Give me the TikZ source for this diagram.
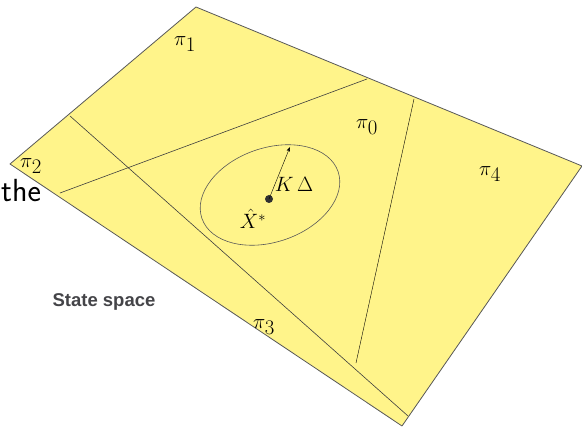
\documentclass[tikz,border=0pt]{standalone}
\usepackage{amsmath,amssymb}
\usepackage{fontspec}
\usepackage{tikz}
\usetikzlibrary{arrows.meta,positioning}
\definecolor{spaceyellow}{RGB}{255,244,138}
\definecolor{spaceedge}{RGB}{88,88,88}
\definecolor{spacelabel}{RGB}{68,68,72}
\newfontfamily\headsans{Liberation Sans}

\begin{document}
\begin{tikzpicture}[x=1pt,y=-1pt,>=Stealth,line cap=round,line join=round,
 mlabel/.style={font=\fontsize{20}{24}\selectfont,inner sep=0pt}]
\useasboundingbox (0,0) rectangle (582,427);
% ekran: y w dol, 1pt = 1px
\coordinate (top) at (196,7);
\coordinate (lft) at (10,164);
\coordinate (bot) at (402,426);
\coordinate (rgt) at (582,166);
\filldraw[fill=spaceyellow,draw=spaceedge,thick] (top)--(rgt)--(bot)--(lft)--cycle;
% granice obszarow
\coordinate (a1) at (70,116);  \coordinate (a2) at (408,416);
\coordinate (b1) at (60,193);  \coordinate (b2) at (367,79);
\coordinate (c1) at (414,99);  \coordinate (c2) at (356,363);
\draw[spaceedge!70!black,semithick] (a1)--(a2);
\draw[spaceedge!70!black,semithick] (b1)--(b2);
\draw[black,thin] (c1)--(c2);
% kula wokol X*
\draw[spaceedge,semithick,rotate around={19:(270,195)}]
 (270,195) ellipse [x radius=72,y radius=47];
\node[circle,fill=spaceedge!55!black,inner sep=0pt,minimum size=8pt] (xstar) at (269,199) {};
\coordinate (rim) at (290,147);
\draw[->,thin] (xstar.center)--(rim);
\node[mlabel] (kd) at (294,184) {$K\,\Delta$};
\node[mlabel] (xs) at (253,219) {$\hat{X}^*$};
\node[mlabel] (p0) at (367,127) {$\pi_{\textstyle 0}$};
\node[mlabel] (p1) at (185,44) {$\pi_{\textstyle 1}$};
\node[mlabel] (p2) at (31,166) {$\pi_{\textstyle 2}$};
\node[mlabel] (p3) at (264,327) {$\pi_{\textstyle 3}$};
\node[mlabel] (p4) at (490,174) {$\pi_{\textstyle 4}$};
\node[font=\sffamily\fontsize{32}{36}\selectfont,inner sep=0pt,anchor=base west] (the) at (1,202) {the};
\node[font=\headsans\bfseries\fontsize{18.5}{22}\selectfont,text=spacelabel,inner sep=0pt,anchor=base] (ss) at (104,307) {State space};
\end{tikzpicture}
\end{document}
